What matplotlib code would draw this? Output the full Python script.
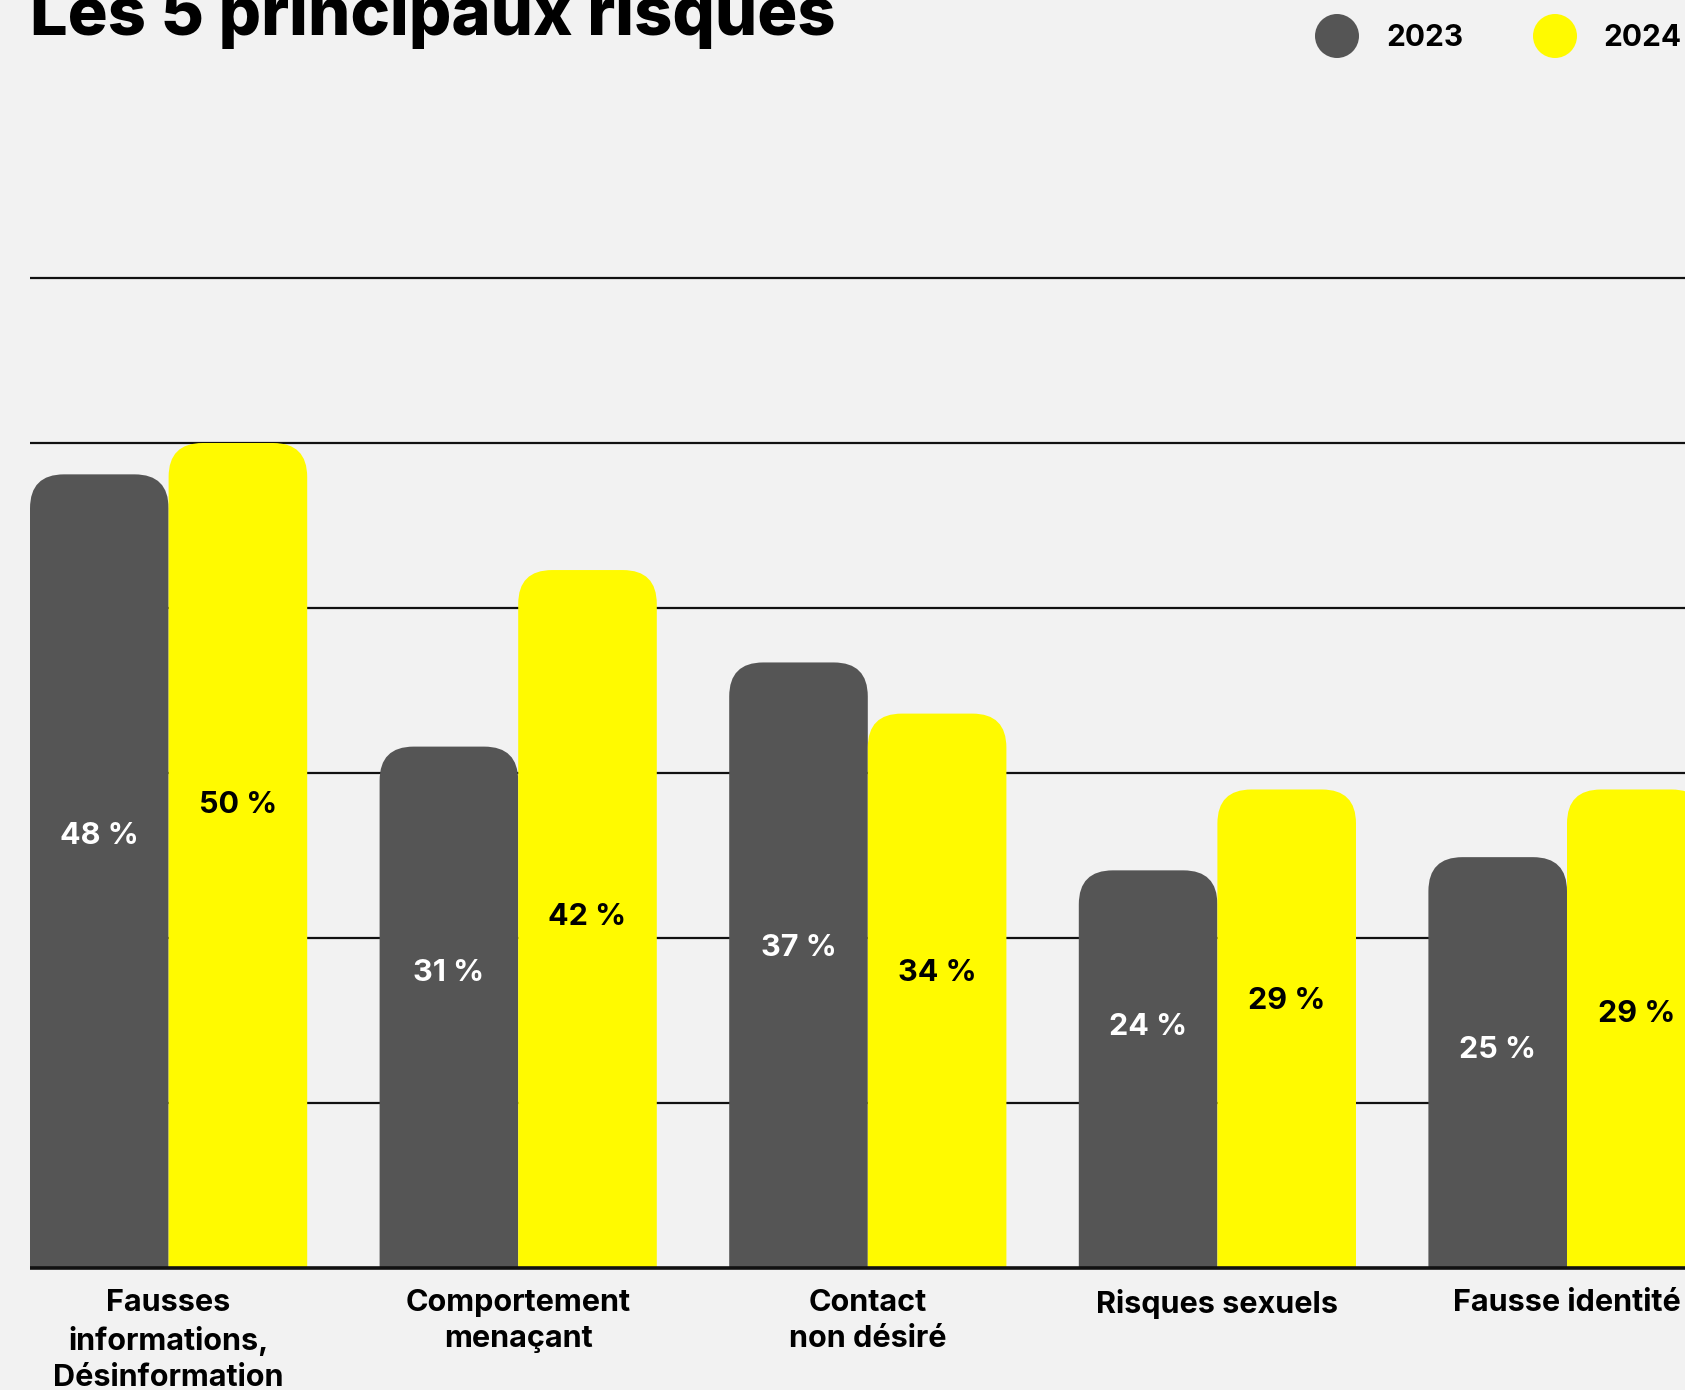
import matplotlib
matplotlib.use("Agg")
import matplotlib.pyplot as plt
from matplotlib.patches import FancyBboxPatch, Circle
import numpy as np

# ---- data ----
categories = ["Fausses\ninformations,\nDésinformation", "Comportement\nmenaçant",
              "Contact\nnon désiré", "Risques sexuels", "Fausse identité"]
values_2023 = [48.1, 31.6, 36.7, 24.1, 24.9]
values_2024 = [50.0, 42.3, 33.6, 29.0, 29.0]
labels_2023 = ["48 %", "31 %", "37 %", "24 %", "25 %"]
labels_2024 = ["50 %", "42 %", "34 %", "29 %", "29 %"]
series_names = ["2023", "2024"]
grid_values = [10, 20, 30, 40, 50, 60]
title = "Les 5 principaux risques"

# ---- layout / style ----
label_y_2023 = [26.2, 17.9, 19.4, 14.6, 13.2]
label_y_2024 = [28.05, 21.3, 17.9, 16.2, 15.4]
BG = "#F2F2F2"
GRAY = "#555555"
YELLOW = "#FFFA00"
W, H = 1685, 1390
FONT = ["Inter", "DejaVu Sans"]

fig = plt.figure(figsize=(W / 100, H / 100), dpi=100, facecolor=BG)

px_per_unit_x = 349.6
px_per_unit_y = 16.5
center0_px = 168.6
base_px = 1268  # from top

ax = fig.add_axes([0, (H - base_px) / H, 1, base_px / H])
ax.set_facecolor(BG)
ax.set_xlim(-center0_px / px_per_unit_x, (W - center0_px) / px_per_unit_x)
ax.set_ylim(0, base_px / px_per_unit_y)
ax.axis("off")

bw = 138.6 / px_per_unit_x
x = np.arange(len(categories))

# gridlines
ax.hlines(grid_values, -bw, ax.get_xlim()[1], colors="#111111", linewidth=1.6, zorder=1)
ax.hlines([0], -bw, ax.get_xlim()[1], colors="#111111", linewidth=2.6, zorder=4, clip_on=False)

r_px = 34
rx = r_px / px_per_unit_x
asp = (r_px / px_per_unit_y) / rx


def rbar(xl, v, color):
    p = FancyBboxPatch((xl, -4), bw, v + 4,
                       boxstyle=f"round,pad=0,rounding_size={rx}",
                       mutation_aspect=asp, facecolor=color, edgecolor="none",
                       zorder=2)
    ax.add_patch(p)


for i, (a, b) in enumerate(zip(values_2023, values_2024)):
    rbar(x[i] - bw, a, GRAY)
    rbar(x[i], b, YELLOW)
    ax.text(x[i] - bw / 2, label_y_2023[i], labels_2023[i], color="white", ha="center",
            va="center", fontsize=22, fontweight="bold", family=FONT, zorder=5)
    ax.text(x[i] + bw / 2, label_y_2024[i], labels_2024[i], color="black", ha="center",
            va="center", fontsize=22, fontweight="bold", family=FONT, zorder=5)
    ax.annotate(categories[i], xy=(x[i], 0), xytext=(0, -21), textcoords="offset pixels",
                ha="center", va="top", fontsize=22, fontweight="bold", family=FONT,
                linespacing=1.37, annotation_clip=False)

# overlay in pixel coordinates for title and legend
ov = fig.add_axes([0, 0, 1, 1])
ov.set_xlim(0, W)
ov.set_ylim(H, 0)
ov.axis("off")
ov.patch.set_alpha(0)

ov.text(30, 35, title, ha="left", va="baseline", fontsize=48, fontweight="heavy",
        family=FONT, color="black")

for cx, col, tx, name in [(1337, GRAY, 1386, series_names[0]), (1555, YELLOW, 1603, series_names[1])]:
    ov.add_patch(Circle((cx, 36), 22, facecolor=col, edgecolor="none"))
    ov.text(tx, 38, name, ha="left", va="center", fontsize=21.5, fontweight="bold",
            family=FONT, color="black")

fig.savefig("out.png", dpi=100, facecolor=BG)
